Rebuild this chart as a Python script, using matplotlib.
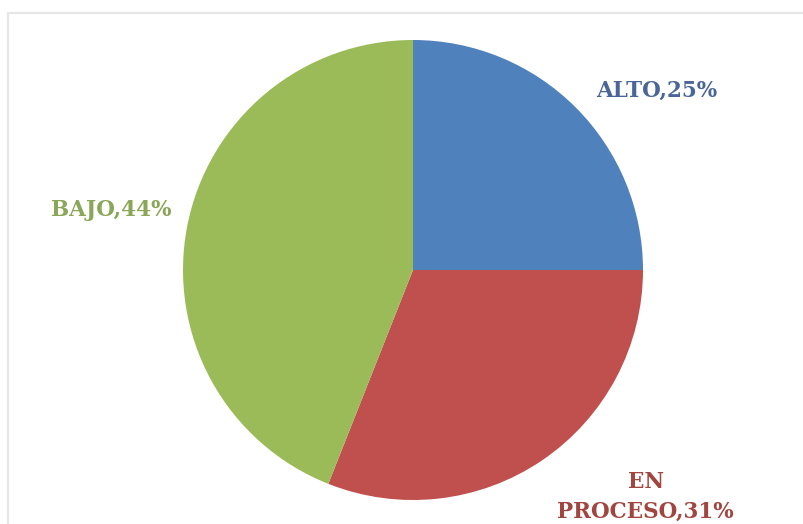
import matplotlib
matplotlib.use("Agg")
import matplotlib.pyplot as plt
from matplotlib.patches import Rectangle

categories = ["ALTO", "EN PROCESO", "BAJO"]
values = [25, 31, 44]
label_lines = [["ALTO,25%"], ["EN", "PROCESO,31%"], ["BAJO,44%"]]
colors = ["#4F81BD", "#C0504D", "#9BBB59"]
label_colors = ["#4A6699", "#A0453F", "#8AA657"]

W, H = 804, 524
fig = plt.figure(figsize=(W / 100, H / 100), dpi=100)
fig.patch.set_facecolor("white")

# faint chart-area border
fig.patches.append(Rectangle((8 / W, -0.01), 1.0, 1 - 13 / H + 0.01,
                             transform=fig.transFigure, fill=False,
                             edgecolor="#E6E6E6", linewidth=1.5))

cx, cy, r = 413, 270, 230
ax = fig.add_axes([(cx - r) / W, (H - cy - r) / H, 2 * r / W, 2 * r / H])
ax.pie(values, colors=colors, startangle=90, counterclock=False,
       wedgeprops=dict(linewidth=0))
ax.set_xlim(-1, 1)
ax.set_ylim(-1, 1)
ax.set_aspect("auto")
ax.axis("off")

positions = [[(657, 91)], [(646, 482), (645, 512)], [(111, 210)]]
font = dict(family=["DejaVu Serif"], fontweight="bold", fontsize=15.5)
for lines, poss, c in zip(label_lines, positions, label_colors):
    for lab, pos in zip(lines, poss):
        fig.text(pos[0] / W, 1 - pos[1] / H, lab, color=c, ha="center",
                 va="center", **font)

fig.savefig("out.png", dpi=100, facecolor="white")
